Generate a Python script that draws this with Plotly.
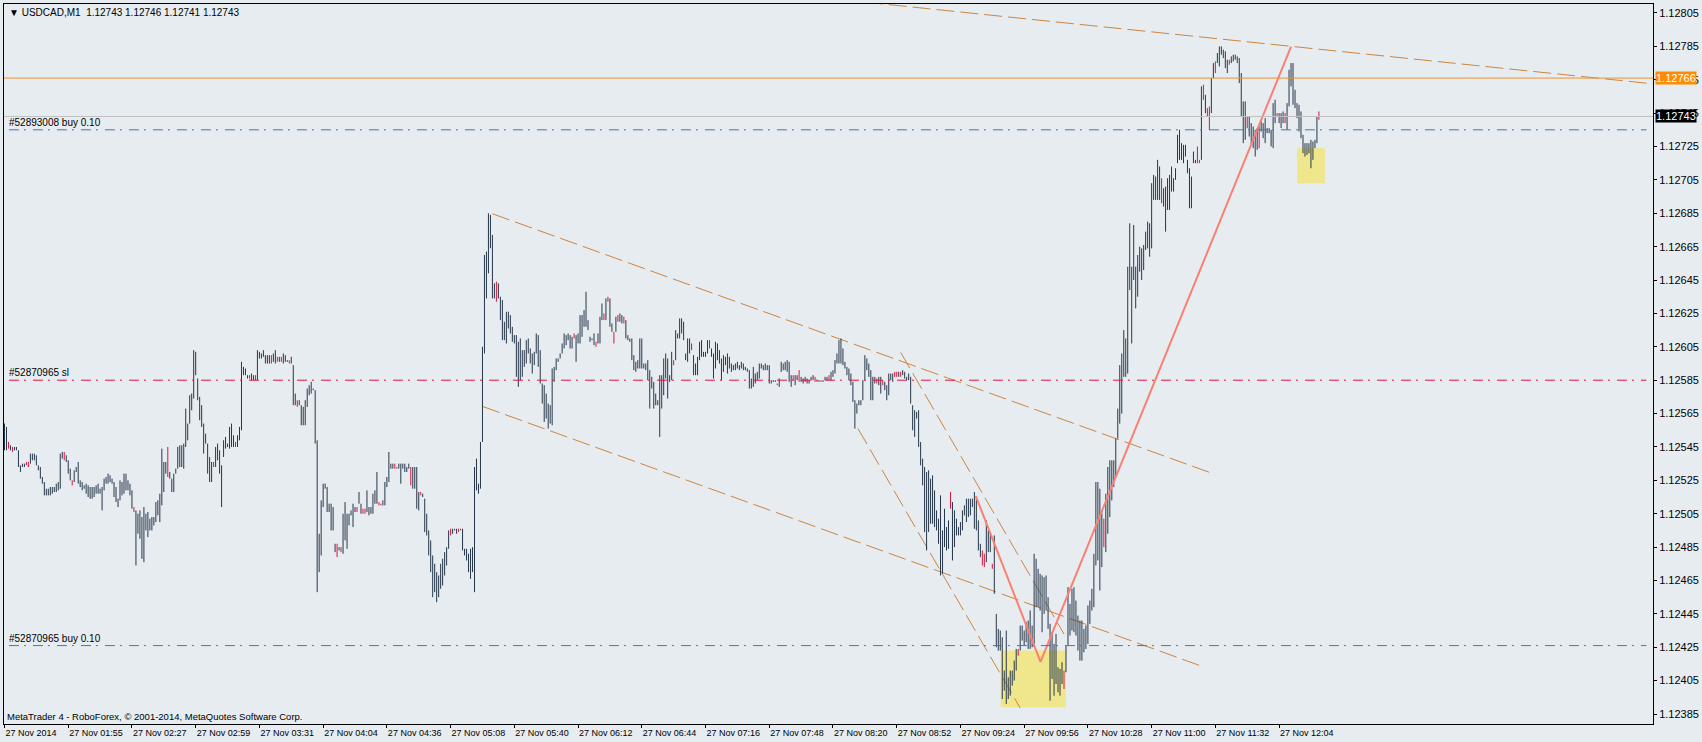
import plotly.graph_objects as go

# ---------------- data (prices in points above BASE, 1 point = 0.00001) ----------------
BASE = 1.12
POINT = 0.00001

HIGH_PTS = [
    559, 557, 548, 546, 545, 545, 545, 543, 534, 535,
    535, 536, 536, 541, 541, 541, 540, 534, 533, 527,
    524, 520, 520, 521, 521, 521, 523, 524, 541, 542,
    542, 540, 537, 532, 525, 531, 533, 536, 525, 524,
    522, 523, 522, 521, 521, 521, 522, 523, 520, 521,
    526, 527, 529, 528, 526, 524, 521, 514, 525, 524,
    529, 529, 525, 523, 519, 509, 507, 505, 507, 503,
    509, 505, 506, 502, 503, 503, 512, 513, 517, 544,
    536, 536, 545, 530, 526, 529, 532, 545, 546, 546,
    547, 568, 559, 576, 577, 603, 602, 586, 575, 570,
    559, 553, 547, 539, 536, 536, 545, 547, 543, 534,
    549, 551, 547, 557, 559, 552, 548, 552, 557, 596,
    593, 592, 588, 588, 589, 588, 588, 603, 602, 601,
    603, 600, 600, 600, 600, 601, 603, 599, 599, 599,
    601, 600, 597, 597, 599, 594, 577, 573, 573, 570,
    569, 573, 580, 582, 584, 580, 579, 549, 493, 513,
    523, 523, 521, 511, 511, 509, 487, 487, 485, 485,
    505, 512, 505, 505, 507, 511, 509, 509, 518, 511,
    508, 508, 519, 509, 509, 517, 519, 530, 512, 511,
    513, 524, 527, 542, 535, 535, 535, 533, 535, 535,
    535, 535, 533, 535, 533, 533, 533, 533, 518, 518,
    517, 514, 505, 495, 489, 480, 475, 470, 468, 475,
    478, 482, 485, 495, 496, 496, 496, 496, 496, 496,
    496, 484, 484, 481, 484, 485, 533, 538, 523, 548,
    605, 660, 662, 685, 684, 672, 643, 644, 643, 635,
    633, 620, 626, 626, 624, 617, 612, 612, 608, 610,
    603, 603, 609, 610, 604, 601, 602, 613, 612, 603,
    583, 582, 577, 571, 570, 592, 593, 598, 598, 601,
    607, 613, 612, 613, 612, 611, 613, 612, 613, 624,
    624, 627, 638, 621, 611, 610, 613, 608, 613, 623,
    631, 625, 634, 635, 634, 619, 614, 623, 624, 625,
    624, 623, 621, 612, 610, 610, 600, 596, 597, 610,
    610, 595, 595, 597, 591, 587, 584, 577, 573, 588,
    588, 598, 601, 598, 588, 602, 597, 615, 613, 622,
    622, 620, 601, 610, 610, 607, 600, 595, 599, 608,
    609, 602, 602, 609, 609, 604, 601, 608, 607, 603,
    598, 600, 599, 601, 599, 595, 594, 595, 596, 594,
    596, 595, 593, 592, 591, 586, 593, 589, 590, 595,
    595, 594, 595, 594, 594, 585, 585, 585, 583, 586,
    596, 595, 596, 597, 596, 588, 588, 588, 588, 591,
    587, 586, 587, 586, 585, 587, 588, 587, 585, 585,
    585, 585, 587, 587, 588, 590, 591, 597, 601, 609,
    610, 604, 596, 593, 592, 589, 584, 573, 571, 573,
    573, 585, 600, 598, 595, 591, 587, 587, 586, 587,
    587, 585, 584, 582, 589, 589, 589, 590, 590, 590,
    590, 591, 590, 587, 589, 587, 570, 567, 566, 567,
    548, 538, 533, 530, 531, 526, 528, 519, 507, 502,
    516, 495, 508, 497, 501, 518, 512, 507, 502, 497,
    500, 507, 510, 514, 514, 514, 514, 518, 515, 501,
    487, 483, 481, 501, 495, 493, 475, 492, 445, 436,
    435, 431, 411, 435, 407, 411, 411, 417, 424, 424,
    438, 438, 435, 440, 441, 447, 438, 481, 478, 472,
    469, 468, 467, 468, 455, 439, 434, 427, 433, 413,
    412, 416, 411, 426, 461, 451, 460, 461, 453, 444,
    441, 441, 436, 438, 450, 453, 460, 481, 524, 524,
    520, 507, 502, 517, 533, 537, 537, 537, 550, 568,
    594, 601, 615, 610, 653, 679, 653, 678, 653, 660,
    665, 664, 666, 674, 680, 679, 703, 708, 707, 717,
    713, 706, 700, 701, 706, 708, 713, 706, 712, 732,
    735, 727, 726, 726, 717, 712, 707, 722, 717, 725,
    717, 761, 762, 756, 748, 749, 766, 775, 776, 781,
    785, 785, 783, 782, 777, 777, 779, 780, 780, 779,
    778, 769, 752, 752, 743, 743, 739, 737, 735, 736,
    737, 741, 739, 742, 736, 736, 735, 751, 753, 745,
    745, 745, 746, 745, 751, 771, 775, 775, 759, 751,
    750, 746, 732, 727, 727, 727, 729, 728, 729, 743,
    746,
]

LOW_PTS = [
    543, 543, 544, 543, 542, 543, 543, 533, 530, 533,
    533, 534, 533, 535, 537, 537, 534, 531, 526, 523,
    516, 516, 516, 516, 517, 518, 518, 519, 520, 538,
    537, 536, 529, 525, 522, 524, 530, 523, 521, 519,
    520, 517, 515, 514, 514, 515, 517, 517, 517, 507,
    519, 523, 523, 524, 523, 515, 512, 509, 513, 516,
    517, 519, 519, 516, 508, 506, 474, 493, 490, 478,
    476, 495, 491, 495, 495, 498, 500, 504, 500, 510,
    518, 529, 527, 526, 518, 518, 529, 532, 533, 533,
    532, 545, 549, 559, 567, 574, 588, 573, 561, 557,
    541, 547, 529, 524, 524, 533, 533, 537, 529, 509,
    539, 544, 545, 544, 545, 545, 545, 545, 549, 555,
    588, 588, 586, 586, 585, 585, 585, 585, 598, 598,
    599, 595, 595, 595, 595, 596, 595, 596, 596, 596,
    595, 596, 596, 595, 595, 570, 570, 569, 570, 558,
    558, 558, 569, 576, 577, 579, 547, 458, 470, 480,
    509, 520, 506, 506, 495, 495, 482, 479, 483, 482,
    481, 489, 484, 498, 504, 497, 506, 506, 511, 505,
    505, 505, 506, 504, 505, 505, 511, 511, 510, 510,
    510, 510, 521, 524, 532, 532, 532, 532, 532, 523,
    532, 530, 530, 532, 522, 520, 520, 508, 507, 516,
    515, 494, 492, 480, 470, 455, 458, 452, 455, 460,
    462, 468, 474, 484, 492, 493, 495, 493, 494, 495,
    483, 480, 477, 470, 466, 470, 458, 519, 517, 520,
    548, 601, 634, 649, 664, 634, 634, 632, 634, 621,
    609, 609, 607, 616, 613, 608, 607, 587, 581, 585,
    587, 593, 595, 601, 595, 589, 594, 601, 593, 583,
    571, 560, 562, 556, 559, 558, 584, 591, 596, 598,
    601, 604, 606, 609, 604, 604, 610, 596, 607, 607,
    611, 617, 617, 615, 608, 609, 606, 605, 607, 607,
    621, 621, 621, 632, 617, 614, 607, 614, 620, 620,
    619, 619, 610, 609, 608, 597, 591, 590, 592, 592,
    592, 592, 591, 585, 568, 580, 568, 570, 570, 551,
    568, 576, 586, 574, 584, 585, 594, 597, 610, 610,
    613, 609, 597, 596, 601, 603, 588, 588, 588, 597,
    599, 599, 599, 601, 604, 599, 586, 592, 597, 595,
    585, 590, 594, 589, 592, 590, 591, 591, 592, 591,
    592, 591, 591, 590, 580, 580, 581, 583, 585, 586,
    592, 591, 591, 591, 583, 583, 584, 584, 582, 581,
    590, 591, 591, 590, 584, 581, 585, 582, 585, 584,
    584, 583, 584, 583, 583, 585, 585, 584, 584, 584,
    584, 584, 585, 585, 585, 585, 587, 589, 595, 595,
    595, 594, 592, 588, 585, 582, 572, 556, 565, 570,
    570, 573, 585, 591, 587, 573, 573, 583, 583, 582,
    577, 582, 579, 573, 576, 585, 584, 587, 587, 587,
    587, 588, 586, 585, 585, 571, 555, 551, 562, 545,
    534, 522, 494, 483, 494, 499, 499, 497, 495, 487,
    468, 469, 485, 483, 484, 508, 477, 485, 492, 492,
    492, 495, 504, 500, 503, 504, 509, 496, 495, 483,
    479, 474, 473, 476, 482, 482, 472, 457, 425, 423,
    423, 394, 399, 391, 394, 396, 402, 405, 411, 420,
    423, 429, 426, 428, 424, 424, 425, 427, 449, 449,
    447, 434, 445, 447, 436, 393, 406, 396, 403, 398,
    396, 403, 400, 410, 426, 432, 435, 434, 432, 423,
    417, 417, 422, 424, 427, 439, 447, 449, 474, 477,
    459, 473, 485, 482, 493, 503, 513, 521, 527, 550,
    559, 565, 587, 587, 589, 639, 607, 645, 628, 635,
    650, 645, 651, 663, 664, 659, 664, 693, 693, 693,
    693, 691, 689, 674, 687, 687, 698, 698, 705, 715,
    717, 717, 715, 719, 709, 688, 688, 715, 715, 715,
    715, 717, 753, 745, 743, 735, 745, 766, 769, 775,
    773, 780, 778, 772, 769, 774, 775, 776, 777, 775,
    763, 743, 727, 729, 736, 731, 726, 724, 719, 723,
    724, 734, 730, 727, 733, 733, 725, 724, 739, 743,
    739, 736, 739, 739, 735, 749, 761, 750, 748, 742,
    734, 730, 721, 719, 720, 721, 712, 717, 724, 727,
    741,
]

RED_BARS = [2, 4, 11, 12, 30, 34, 65, 82, 105, 116, 123, 126, 134, 137, 139, 143,
            147, 167, 169, 177, 180, 181, 188, 189, 196, 197, 204, 209, 224, 228,
            229, 247, 286, 297, 301, 303, 306, 308, 311, 336, 345, 354, 388, 396,
            399, 407, 408, 410, 414, 438, 441, 447, 448, 450, 475, 491, 492, 496,
            509, 532, 552, 581, 599, 600, 602, 604, 605, 608, 615, 624, 630, 639,
            643, 660]

TIME_LABELS = ["27 Nov 2014", "27 Nov 01:55", "27 Nov 02:27", "27 Nov 02:59",
               "27 Nov 03:31", "27 Nov 04:04", "27 Nov 04:36", "27 Nov 05:08",
               "27 Nov 05:40", "27 Nov 06:12", "27 Nov 06:44", "27 Nov 07:16",
               "27 Nov 07:48", "27 Nov 08:20", "27 Nov 08:52", "27 Nov 09:24",
               "27 Nov 09:56", "27 Nov 10:28", "27 Nov 11:00", "27 Nov 11:32",
               "27 Nov 12:04"]
TIME_LABEL_BARS = [0, 32, 64, 96, 128, 160, 192, 224, 256, 288, 320, 352, 384,
                   416, 448, 480, 512, 544, 576, 608, 640]

PRICE_TICKS = [1.12385, 1.12405, 1.12425, 1.12445, 1.12465, 1.12485, 1.12505,
               1.12525, 1.12545, 1.12565, 1.12585, 1.12605, 1.12625, 1.12645,
               1.12665, 1.12685, 1.12705, 1.12725, 1.12745, 1.12765, 1.12785,
               1.12805]

SYMBOL = "USDCAD,M1"
LAST_OHLC = ["1.12743", "1.12746", "1.12741", "1.12743"]
BID_PRICE = 1.12743
ALERT_PRICE = 1.12766
ORDER_LABELS = ["#52893008 buy 0.10", "#52870965 sl", "#52870965 buy 0.10"]
ORDER_PRICES = [1.12735, 1.12585, 1.12426]
ORDER_COLORS = ["#3f7ab0", "#e8103a", "#3f7ab0"]

# trend lines: (bar, price) anchors
TREND_BARS = [(420, 828), (245, 605), (240, 601), (428.5, 510), (450, 532)]
TREND_PRICES = [(1.12813, 1.127625), (1.126847, 1.125298), (1.125693, 1.124137),
                (1.125561, 1.123886), (1.126016, 1.124329)]
ZIGZAG_BARS = [487.7, 520.2, 646]
ZIGZAG_PRICES = [1.125156, 1.124163, 1.127848]
BOX_BARS = [(500.2, 533), (649, 663)]
BOX_PRICES = [(1.12389, 1.12423), (1.12703, 1.12724)]

# ---------------- styling ----------------
BG = "#e7ecf1"
BAR_COLOR = "#26374a"
RED_COLOR = "#dc143c"
TREND_COLOR = "#cd853f"
FONT = "Liberation Sans Narrow, Arial Narrow, Liberation Sans, Arial, sans-serif"

fig = go.Figure()

red = set(RED_BARS)
xs_n, ys_n, xs_r, ys_r = [], [], [], []
for i, (h, l) in enumerate(zip(HIGH_PTS, LOW_PTS)):
    hi = BASE + h * POINT
    lo = BASE + l * POINT
    if hi - lo < 0.5 * POINT:
        hi += 0.3 * POINT
        lo -= 0.3 * POINT
    if i in red:
        xs_r += [i, i, None]
        ys_r += [lo, hi, None]
    else:
        xs_n += [i, i, None]
        ys_n += [lo, hi, None]

for (b0, b1), (p0, p1) in zip(TREND_BARS, TREND_PRICES):
    fig.add_trace(go.Scatter(x=[b0, b1], y=[p0, p1], mode="lines",
                             line=dict(color=TREND_COLOR, width=1, dash="18px,6px"),
                             hoverinfo="skip", showlegend=False))

fig.add_trace(go.Scatter(x=xs_n, y=ys_n, mode="lines",
                         line=dict(color=BAR_COLOR, width=1),
                         hoverinfo="skip", showlegend=False, connectgaps=False))
fig.add_trace(go.Scatter(x=xs_r, y=ys_r, mode="lines",
                         line=dict(color=RED_COLOR, width=1),
                         hoverinfo="skip", showlegend=False, connectgaps=False))

fig.add_trace(go.Scatter(x=ZIGZAG_BARS, y=ZIGZAG_PRICES, mode="lines",
                         line=dict(color="#fa8072", width=2),
                         hoverinfo="skip", showlegend=False))

shapes = []
for (b0, b1), (p0, p1) in zip(BOX_BARS, BOX_PRICES):
    shapes.append(dict(type="rect", xref="x", yref="y", x0=b0, x1=b1, y0=p0, y1=p1,
                       fillcolor="#f0e68c", line=dict(width=0), layer="below"))
shapes.append(dict(type="line", xref="paper", yref="y", x0=0, x1=1,
                   y0=ALERT_PRICE, y1=ALERT_PRICE, line=dict(color="#ee9130", width=1)))
shapes.append(dict(type="line", xref="paper", yref="y", x0=0, x1=1,
                   y0=BID_PRICE, y1=BID_PRICE, line=dict(color="#c0c0c0", width=1)))
for p, c in zip(ORDER_PRICES, ORDER_COLORS):
    shapes.append(dict(type="line", xref="paper", yref="y", x0=0.003, x1=0.996,
                       y0=p, y1=p, line=dict(color=c, width=1, dash="10px,5px,2px,7px")))

annotations = []
annotations.append(dict(text="\u25bc " + SYMBOL + "\u00a0\u00a0" + " ".join(LAST_OHLC),
                        xref="paper", yref="paper", x=0, y=1, xanchor="left", yanchor="top",
                        xshift=3, yshift=-1, showarrow=False,
                        font=dict(family=FONT, size=10, color="black")))
annotations.append(dict(text="MetaTrader 4 - RoboForex, \u00a9 2001-2014, MetaQuotes Software Corp.",
                        xref="paper", yref="paper", x=0, y=0, xanchor="left", yanchor="bottom",
                        xshift=1, yshift=0, showarrow=False,
                        font=dict(family=FONT, size=9.5, color="black")))
for t, p in zip(ORDER_LABELS, ORDER_PRICES):
    annotations.append(dict(text=t, xref="paper", yref="y", x=0, y=p, xanchor="left",
                            yanchor="bottom", xshift=3, yshift=0, showarrow=False,
                            font=dict(family=FONT, size=10, color="black")))
for p, bg in [(ALERT_PRICE, "#ff8c00"), (BID_PRICE, "#000000")]:
    annotations.append(dict(text=f"{p:.5f}", xref="paper", yref="y", x=1, y=p,
                            xanchor="left", yanchor="middle", xshift=2, showarrow=False,
                            bgcolor=bg, borderpad=0,
                            font=dict(family=FONT, size=11, color="white")))

fig.update_layout(
    width=1702, height=742,
    margin=dict(l=3, r=43, t=3, b=18, pad=0),
    paper_bgcolor=BG, plot_bgcolor=BG,
    shapes=shapes, annotations=annotations,
    showlegend=False,
    xaxis=dict(range=[-0.25, 827.75], showgrid=False, zeroline=False,
               showline=True, linecolor="black", linewidth=1, mirror=True,
               ticks="outside", ticklen=3, tickcolor="black", tickwidth=1,
               tickvals=TIME_LABEL_BARS, ticktext=TIME_LABELS, tickangle=0,
               ticklabelposition="outside right",
               tickfont=dict(family=FONT, size=9, color="black")),
    yaxis=dict(range=[1.1237902, 1.1281038], side="right", showgrid=False,
               zeroline=False, showline=True, linecolor="black", linewidth=1,
               mirror=True, ticks="outside", ticklen=3, tickcolor="black",
               tickvals=PRICE_TICKS, ticktext=[f"{v:.5f}" for v in PRICE_TICKS],
               tickfont=dict(family=FONT, size=11, color="black")),
)

fig.write_html("out.html", config={"displayModeBar": False},
               post_script="document.body.style.margin='0';document.body.style.overflow='hidden';")
